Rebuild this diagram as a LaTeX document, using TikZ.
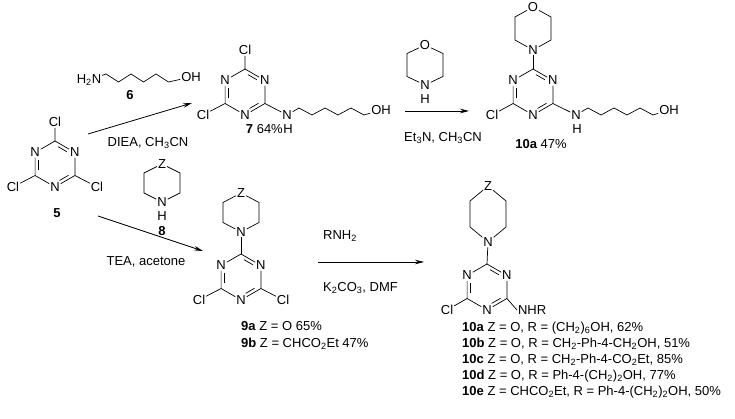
\documentclass[tikz,border=0pt]{standalone}
\usepackage{fontspec}
\setmainfont{Liberation Sans}
\usetikzlibrary{calc,arrows.meta}
\tikzset{
  atom/.style={inner sep=0.8pt,font=\fontsize{13}{14}\selectfont},
  txt/.style={inner sep=0pt,font=\fontsize{13}{14}\selectfont},
  num/.style={inner sep=0pt,font=\bfseries\fontsize{13}{14}\selectfont},
  bond/.style={line width=0.7pt},
  rxn/.style={line width=0.8pt,-{Stealth[length=9pt,width=4.5pt]}}
}
\newcommand\trz[3]{%
  \coordinate (#1o) at (#2,#3);
  \coordinate (#1c0) at ({#2},{#3-23});
  \node[atom] (#1n1) at ({#2+19.9},{#3-11.5}) {N};
  \coordinate (#1c2) at ({#2+19.9},{#3+11.5});
  \node[atom] (#1n3) at ({#2},{#3+23}) {N};
  \coordinate (#1c4) at ({#2-19.9},{#3+11.5});
  \node[atom] (#1n5) at ({#2-19.9},{#3-11.5}) {N};
  \draw[bond] (#1c0)--(#1n1)--(#1c2)--(#1n3)--(#1c4)--(#1n5)--(#1c0);
  \draw[bond] ($($(#1c0)!0.18!(#1n1)$)!0.17!(#1o)$)--($($(#1c0)!0.72!(#1n1)$)!0.17!(#1o)$);
  \draw[bond] ($($(#1c2)!0.18!(#1n3)$)!0.17!(#1o)$)--($($(#1c2)!0.72!(#1n3)$)!0.17!(#1o)$);
  \draw[bond] ($($(#1c4)!0.18!(#1n5)$)!0.17!(#1o)$)--($($(#1c4)!0.72!(#1n5)$)!0.17!(#1o)$);
}
% prefix, cx, cy, shoulder, tip, top label
\newcommand\satring[6]{%
  \node[atom] (#1t) at ({#2},{#3-#5}) {#6};
  \coordinate (#1a) at ({#2+18},{#3-#4});
  \coordinate (#1b) at ({#2+18},{#3+#4});
  \node[atom] (#1n) at ({#2},{#3+#5}) {N};
  \coordinate (#1d) at ({#2-18},{#3+#4});
  \coordinate (#1e) at ({#2-18},{#3-#4});
  \draw[bond] (#1t)--(#1a)--(#1b)--(#1n)--(#1d)--(#1e)--(#1t);
}
\begin{document}
\begin{tikzpicture}[x=1pt,y=-1pt]
\useasboundingbox[fill=white] (0,0) rectangle (735,419);
% compound 5
\trz{f}{55}{164}
\node[atom] (fcl1) at (55,122) {Cl};
\node[atom] (fcl2) at (13,187) {Cl};
\node[atom] (fcl3) at (97,187) {Cl};
\draw[bond] (fc0)--(fcl1) (fc4)--(fcl2) (fc2)--(fcl3);
\node[num] (l5) at (57,213) {5};
% reagent 6
\node[atom] (sn) at (89,80) {H\textsubscript{2}N};
\node[atom] (soh) at (191,77) {OH};
\coordinate (s1) at (106,74); \coordinate (s2) at (118.5,82);
\coordinate (s3) at (131,74); \coordinate (s4) at (143.5,82);
\coordinate (s5) at (156,74); \coordinate (s6) at (168.5,82);
\draw[bond] (sn)--(s1)--(s2)--(s3)--(s4)--(s5)--(s6)--(soh);
\node[num] (l6) at (130,95) {6};
% arrow 1
\coordinate (a1s) at (88,134); \coordinate (a1e) at (192,103);
\draw[rxn] (a1s)--(a1e);
\node[txt] (c1) at (148,143) {DIEA, CH\textsubscript{3}CN};
% compound 7
\trz{g}{245}{92}
\node[atom] (gcl1) at (245,50) {Cl};
\node[atom] (gcl2) at (203,115) {Cl};
\node[atom] (gnh) at (287,115) {N};
\node[atom] (gh) at (288,129) {H};
\draw[bond] (gc0)--(gcl1) (gc4)--(gcl2) (gc2)--(gnh);
\node[atom] (goh) at (381,110) {OH};
\coordinate (g1) at (299,108); \coordinate (g2) at (312,115);
\coordinate (g3) at (325,108); \coordinate (g4) at (338,115);
\coordinate (g5) at (351,108); \coordinate (g6) at (364,115);
\draw[bond] (gnh)--(g1)--(g2)--(g3)--(g4)--(g5)--(g6)--(goh);
\node[txt,anchor=east] (l7) at (283,129) {\textbf{7} 64\%};
% morpholine reagent
\satring{m}{425}{65}{11.5}{20}{O}
\node[atom] (mh) at (425,99) {H};
% arrow 2
\coordinate (a2s) at (405,111); \coordinate (a2e) at (469,111);
\draw[rxn] (a2s)--(a2e);
\node[txt] (c2) at (443,138) {Et\textsubscript{3}N, CH\textsubscript{3}CN};
% compound 10a (top)
\trz{h}{533}{92}
\satring{k}{533}{28.5}{11.5}{21.5}{O}
\draw[bond] (hc0)--(kn);
\node[atom] (hcl) at (492,115) {Cl};
\node[atom] (hnh) at (576,115) {N};
\node[atom] (hh) at (577,129) {H};
\draw[bond] (hc4)--(hcl) (hc2)--(hnh);
\node[atom] (hoh) at (669,110) {OH};
\coordinate (h1) at (588,108); \coordinate (h2) at (601,115);
\coordinate (h3) at (614,108); \coordinate (h4) at (627,115);
\coordinate (h5) at (640,108); \coordinate (h6) at (653,115);
\draw[bond] (hnh)--(h1)--(h2)--(h3)--(h4)--(h5)--(h6)--(hoh);
\node[txt] (l10t) at (541,144) {\textbf{10a} 47\%};
% reagent 8
\satring{r}{162}{183}{10}{19}{Z}
\node[atom] (rh) at (162,216) {H};
\node[num] (l8) at (162,231) {8};
% arrow 3
\coordinate (a3s) at (98,216); \coordinate (a3e) at (203,251);
\draw[rxn] (a3s)--(a3e);
\node[txt] (c3) at (146,262) {TEA, acetone};
% compound 9
\trz{p}{241}{277}
\satring{q}{241}{212.5}{10}{19.5}{Z}
\draw[bond] (pc0)--(qn);
\node[atom] (pcl1) at (199,300) {Cl};
\node[atom] (pcl2) at (283,300) {Cl};
\draw[bond] (pc4)--(pcl1) (pc2)--(pcl2);
\node[txt,anchor=west] (l9a) at (241,326) {\textbf{9a} Z = O 65\%};
\node[txt,anchor=west] (l9b) at (241,344) {\textbf{9b} Z = CHCO\textsubscript{2}Et 47\%};
% arrow 4
\coordinate (a4s) at (318,262); \coordinate (a4e) at (424,262);
\draw[rxn] (a4s)--(a4e);
\node[txt,anchor=west] (c4a) at (323,236) {RNH\textsubscript{2}};
\node[txt,anchor=west] (c4b) at (323,288) {K\textsubscript{2}CO\textsubscript{3}, DMF};
% compound 10 general
\trz{u}{487}{287}
\satring{v}{488}{214}{13}{28}{Z}
\draw[bond] (uc0)--(vn);
\node[atom] (ucl) at (447,310) {Cl};
\node[atom,anchor=west] (unhr) at (517,310) {NHR};
\draw[bond] (uc4)--(ucl) (uc2)--(unhr.west);
\node[txt,anchor=west] (l10a) at (462,328) {\textbf{10a} Z = O, R = (CH\textsubscript{2})\textsubscript{6}OH, 62\%};
\node[txt,anchor=west] (l10b) at (462,344) {\textbf{10b} Z = O, R = CH\textsubscript{2}-Ph-4-CH\textsubscript{2}OH, 51\%};
\node[txt,anchor=west] (l10c) at (462,360) {\textbf{10c} Z = O, R = CH\textsubscript{2}-Ph-4-CO\textsubscript{2}Et, 85\%};
\node[txt,anchor=west] (l10d) at (462,376) {\textbf{10d} Z = O, R = Ph-4-(CH\textsubscript{2})\textsubscript{2}OH, 77\%};
\node[txt,anchor=west] (l10e) at (462,392) {\textbf{10e} Z = CHCO\textsubscript{2}Et, R = Ph-4-(CH\textsubscript{2})\textsubscript{2}OH, 50\%};
\end{tikzpicture}
\end{document}
